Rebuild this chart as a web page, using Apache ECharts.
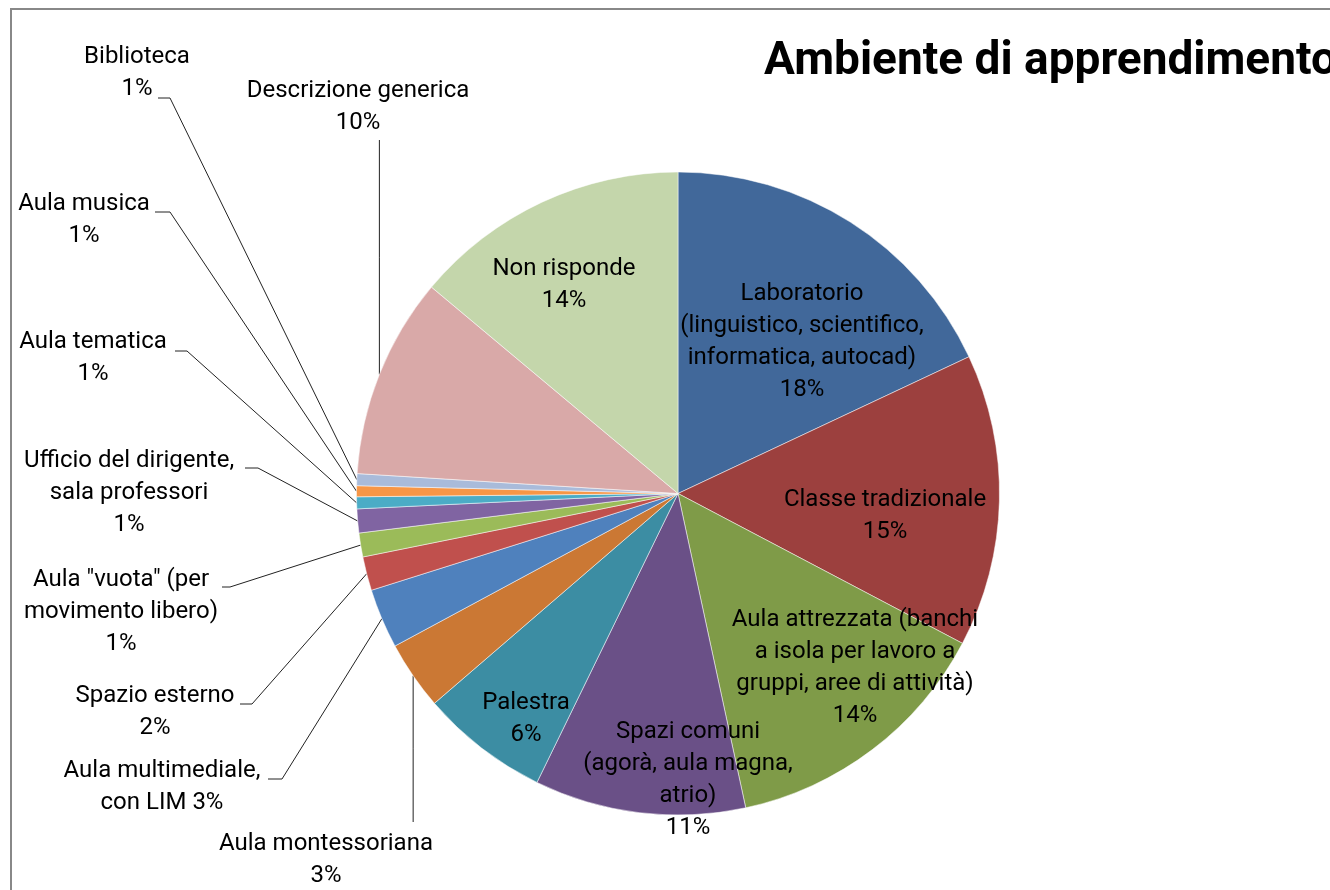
<!DOCTYPE html>
<html><head><meta charset="utf-8">
<script src="https://cdn.jsdelivr.net/npm/echarts@6/dist/echarts.min.js"></script>
<style>html,body{margin:0;padding:0;background:#fff;overflow:hidden}#chart{width:1330px;height:890px}</style>
</head><body><div id="chart"></div>
<script>
// ---- data, clockwise from 12 o'clock ----
const categories = [
  'Laboratorio (linguistico, scientifico, informatica, autocad)',
  'Classe tradizionale',
  'Aula attrezzata (banchi a isola per lavoro a gruppi, aree di attività)',
  'Spazi comuni (agorà, aula magna, atrio)',
  'Palestra',
  'Aula montessoriana',
  'Aula multimediale, con LIM',
  'Spazio esterno',
  'Aula "vuota" (per movimento libero)',
  'Ufficio del dirigente, sala professori',
  'Aula tematica',
  'Aula musica',
  'Biblioteca',
  'Descrizione generica',
  'Non risponde'
];
const values = [18.0, 14.7, 13.9, 10.6, 6.45, 3.45, 3.0, 1.7, 1.2, 1.2, 0.6, 0.55, 0.6, 10.1, 13.9];
const sliceColors = ['#41689A', '#9C403E', '#7F9B48', '#6A5087', '#3C8DA3', '#CB7834',
  '#4F81BD', '#C0504D', '#9BBB59', '#8064A2', '#4BACC6', '#F79646',
  '#A9BBDA', '#D9A9A8', '#C4D6AB'];
// label text wrapping as in the picture ({p} = percent)
const labelText = [
  'Laboratorio\n(linguistico, scientifico,\ninformatica, autocad)\n{p}',
  'Classe tradizionale\n{p}',
  'Aula attrezzata (banchi\na isola per lavoro a\ngruppi, aree di attività)\n{p}',
  'Spazi comuni\n(agorà, aula magna,\natrio)\n{p}',
  'Palestra\n{p}',
  'Aula montessoriana\n{p}',
  'Aula multimediale,\ncon LIM {p}',
  'Spazio esterno\n{p}',
  'Aula "vuota" (per\nmovimento libero)\n{p}',
  'Ufficio del dirigente,\nsala professori\n{p}',
  'Aula tematica\n{p}',
  'Aula musica\n{p}',
  'Biblioteca\n{p}',
  'Descrizione generica\n{p}',
  'Non risponde\n{p}'
];

// ---- layout (positions only) ----
const CENTER = [678, 493.5];
const RADIUS = 321.5;
const LABEL_POS = [
  {x: 802, y: 342},
  {x: 885, y: 516},
  {x: 855, y: 668},
  {x: 688, y: 780},
  {x: 526, y: 719},
  {x: 326, y: 860, vline: 822},
  {x: 162, y: 787, line: [[282, 779], [268, 779]]},
  {x: 155, y: 712, line: [[252, 704], [240, 704]]},
  {x: 121, y: 612, line: [[230, 587], [222, 587]]},
  {x: 129, y: 493, line: [[258, 468], [245, 468]]},
  {x: 93,  y: 358, line: [[187, 351], [175, 351]]},
  {x: 84,  y: 220, line: [[170, 212], [155, 212]]},
  {x: 137, y: 73,  line: [[170, 98], [158, 98]]},
  {x: 358, y: 107, vline: 140},
  {x: 564, y: 285}
];

const total = values.reduce((a, b) => a + b, 0);
function edgePoint(i) {
  let before = 0;
  for (let k = 0; k < i; k++) before += values[k];
  const mid = (before + values[i] / 2) / total * Math.PI * 2;
  return [CENTER[0] + RADIUS * Math.sin(mid), CENTER[1] - RADIUS * Math.cos(mid)];
}
function isOutside(i) { return !!(LABEL_POS[i].line || LABEL_POS[i].vline); }

const FONT = 'Roboto, "Noto Sans", sans-serif';
const data = categories.map((name, i) => ({
  name: name,
  value: values[i],
  itemStyle: {color: sliceColors[i]},
  label: {position: isOutside(i) ? 'outside' : 'inside'},
  labelLine: {show: isOutside(i)}
}));

const chart = echarts.init(document.getElementById('chart'), null, {renderer: 'canvas'});
chart.setOption({
  animation: false,
  backgroundColor: '#ffffff',
  title: {
    text: 'Ambiente di apprendimento',
    left: 759, top: 34,
    textStyle: {fontFamily: FONT, fontSize: 46, fontWeight: 'bold', color: '#000'}
  },
  graphic: [
    {type: 'line', shape: {x1: 10, y1: 9, x2: 1330, y2: 9}, style: {stroke: '#888', lineWidth: 2}},
    {type: 'line', shape: {x1: 11, y1: 8, x2: 11, y2: 890}, style: {stroke: '#888', lineWidth: 2}}
  ],
  series: [{
    type: 'pie',
    center: CENTER,
    radius: RADIUS,
    startAngle: 90,
    clockwise: true,
    avoidLabelOverlap: false,
    itemStyle: {borderColor: '#ffffff', borderWidth: 0.5},
    label: {
      show: true,
      fontFamily: FONT, fontSize: 24, lineHeight: 32, color: '#000',
      align: 'center',
      formatter: p => labelText[p.dataIndex].replace('{p}', Math.round(p.value) + '%')
    },
    labelLine: {lineStyle: {color: '#222', width: 1}},
    labelLayout: function (params) {
      const i = params.dataIndex;
      const L = LABEL_POS[i];
      const res = {x: L.x, y: L.y, align: 'center', verticalAlign: 'middle'};
      if (isOutside(i)) {
        const e = edgePoint(i);
        res.labelLinePoints = L.vline != null ? [e, [e[0], (e[1] + L.vline) / 2], [e[0], L.vline]] : [e].concat(L.line);
      }
      return res;
    },
    data: data
  }]
});
</script></body></html>
